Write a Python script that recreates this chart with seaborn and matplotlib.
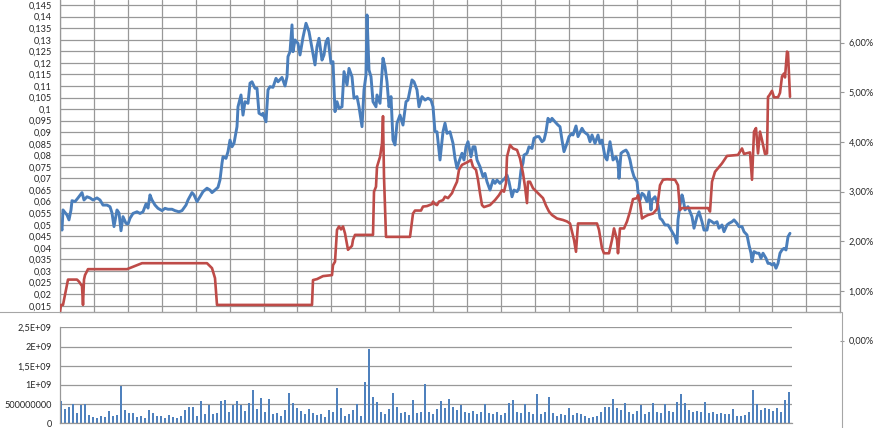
import numpy as np
import seaborn as sns
import matplotlib
matplotlib.use('Agg')
import matplotlib.pyplot as plt
from matplotlib.patches import Rectangle

sns.set_style('white')
plt.rcParams['font.family'] = ['Lato', 'DejaVu Sans']

# trading-day index (0..730) and values
blue_day = [0, 2, 3, 7, 9, 11, 12, 15, 18, 22, 24, 27, 30, 33, 37, 40, 43, 47, 50, 52, 54, 57, 59, 61, 63, 66, 68, 70,
            73, 77, 80, 83, 86, 88, 90, 92, 95, 98, 102, 105, 108, 112, 115, 119, 122, 126, 128, 132, 134, 137, 140,
            143, 147, 150, 152, 155, 158, 160, 162, 163, 166, 168, 170, 172, 174, 177, 178, 181, 183, 185, 188, 190,
            192, 195, 197, 199, 202, 203, 206, 208, 210, 213, 216, 218, 222, 225, 227, 228, 230, 232, 233, 235, 238,
            240, 243, 246, 249, 252, 255, 257, 259, 262, 264, 266, 268, 271, 273, 275, 277, 279, 282, 284, 287, 289,
            292, 294, 297, 299, 302, 304, 306, 307, 309, 311, 313, 316, 317, 320, 323, 325, 327, 329, 331, 333, 335,
            337, 340, 342, 343, 346, 348, 352, 354, 357, 359, 362, 365, 368, 371, 373, 375, 377, 380, 383, 385, 387,
            390, 393, 395, 397, 399, 402, 404, 406, 408, 411, 413, 415, 417, 420, 423, 425, 427, 430, 433, 435, 437,
            440, 443, 445, 447, 449, 452, 454, 457, 459, 461, 463, 464, 467, 469, 472, 474, 477, 479, 482, 484, 486,
            488, 490, 492, 495, 498, 500, 502, 504, 507, 509, 512, 513, 516, 518, 522, 524, 528, 530, 532, 535, 538,
            540, 542, 545, 547, 550, 552, 553, 556, 558, 559, 561, 563, 566, 568, 570, 572, 574, 577, 578, 580, 582,
            584, 587, 589, 591, 592, 595, 598, 600, 602, 605, 608, 610, 612, 615, 617, 618, 620, 622, 623, 625, 628,
            630, 632, 634, 637, 639, 642, 644, 647, 649, 652, 654, 657, 659, 662, 664, 667, 669, 672, 674, 677, 679,
            682, 684, 687, 689, 691, 692, 694, 697, 699, 701, 703, 706, 708, 710, 712, 714, 716, 718, 720, 722, 724,
            726, 728, 730]
blue_val = [0.0508, 0.0477, 0.0564, 0.0542, 0.0521, 0.0564, 0.0604, 0.0600, 0.0616, 0.0639, 0.0607, 0.0621, 0.0616,
            0.0607, 0.0616, 0.0607, 0.0585, 0.0585, 0.0578, 0.0551, 0.0492, 0.0564, 0.0551, 0.0474, 0.0535, 0.0506,
            0.0503, 0.0528, 0.0549, 0.0556, 0.0549, 0.0556, 0.0590, 0.0572, 0.0629, 0.0607, 0.0585, 0.0571, 0.0561,
            0.0571, 0.0567, 0.0567, 0.0561, 0.0556, 0.0561, 0.0585, 0.0607, 0.0639, 0.0629, 0.0600, 0.0621, 0.0643,
            0.0658, 0.0650, 0.0639, 0.0650, 0.0662, 0.0694, 0.0766, 0.0794, 0.0787, 0.0816, 0.0866, 0.0837, 0.0852,
            0.0924, 0.1010, 0.1061, 0.0974, 0.1032, 0.1025, 0.1112, 0.1118, 0.1090, 0.1090, 0.0982, 0.0974, 0.0982,
            0.0945, 0.1083, 0.1097, 0.1094, 0.1133, 0.1118, 0.1137, 0.1100, 0.1140, 0.1227, 0.1248, 0.1364, 0.1248,
            0.1299, 0.1284, 0.1234, 0.1310, 0.1371, 0.1335, 0.1263, 0.1191, 0.1270, 0.1306, 0.1212, 0.1234, 0.1291,
            0.1306, 0.1198, 0.1205, 0.0989, 0.1032, 0.1003, 0.1010, 0.1162, 0.1104, 0.1176, 0.1140, 0.1047, 0.1054,
            0.1010, 0.0924, 0.1083, 0.1147, 0.1407, 0.1169, 0.1140, 0.1032, 0.1010, 0.1061, 0.1025, 0.1220, 0.1183,
            0.1118, 0.1010, 0.1054, 0.0866, 0.0845, 0.0939, 0.0974, 0.0945, 0.0931, 0.1032, 0.1039, 0.1126, 0.1118,
            0.1083, 0.1010, 0.1054, 0.1039, 0.1047, 0.1039, 0.1010, 0.0902, 0.0902, 0.0780, 0.0902, 0.0939, 0.0895,
            0.0902, 0.0852, 0.0787, 0.0744, 0.0773, 0.0809, 0.0780, 0.0837, 0.0859, 0.0794, 0.0837, 0.0837, 0.0780,
            0.0751, 0.0708, 0.0722, 0.0686, 0.0650, 0.0693, 0.0679, 0.0693, 0.0679, 0.0693, 0.0701, 0.0715, 0.0686,
            0.0621, 0.0650, 0.0643, 0.0658, 0.0737, 0.0766, 0.0801, 0.0809, 0.0837, 0.0830, 0.0874, 0.0881, 0.0881,
            0.0859, 0.0866, 0.0902, 0.0960, 0.0945, 0.0960, 0.0945, 0.0931, 0.0924, 0.0866, 0.0816, 0.0852, 0.0881,
            0.0895, 0.0888, 0.0927, 0.0881, 0.0917, 0.0902, 0.0888, 0.0859, 0.0888, 0.0852, 0.0888, 0.0852, 0.0866,
            0.0794, 0.0780, 0.0859, 0.0809, 0.0780, 0.0794, 0.0766, 0.0701, 0.0809, 0.0816, 0.0823, 0.0809, 0.0780,
            0.0737, 0.0708, 0.0686, 0.0643, 0.0607, 0.0636, 0.0629, 0.0600, 0.0643, 0.0564, 0.0607, 0.0621, 0.0585,
            0.0528, 0.0521, 0.0499, 0.0499, 0.0485, 0.0470, 0.0448, 0.0420, 0.0521, 0.0585, 0.0629, 0.0614, 0.0564,
            0.0578, 0.0556, 0.0535, 0.0485, 0.0535, 0.0556, 0.0513, 0.0477, 0.0477, 0.0521, 0.0513, 0.0506, 0.0513,
            0.0485, 0.0499, 0.0470, 0.0499, 0.0506, 0.0513, 0.0521, 0.0506, 0.0492, 0.0492, 0.0470, 0.0456, 0.0412,
            0.0377, 0.0340, 0.0384, 0.0377, 0.0377, 0.0355, 0.0377, 0.0355, 0.0333, 0.0333, 0.0326, 0.0333, 0.0312,
            0.0333, 0.0377, 0.0391, 0.0398, 0.0391, 0.0448, 0.0463]

red_day = [0, 1, 3, 8, 17, 19, 22, 23, 24, 25, 28, 67, 82, 147, 152, 155, 157, 252, 253, 257, 263, 272, 273, 275,
           277, 279, 281, 283, 285, 288, 292, 293, 295, 313, 314, 316, 317, 320, 322, 323, 324, 326, 350, 353, 355,
           361, 363, 367, 372, 373, 375, 377, 379, 383, 385, 388, 392, 394, 397, 399, 402, 405, 408, 411, 413, 416,
           418, 420, 422, 424, 430, 435, 439, 442, 444, 446, 447, 450, 453, 457, 460, 463, 465, 467, 468, 470, 473,
           478, 483, 486, 489, 492, 497, 503, 507, 510, 514, 516, 518, 537, 539, 542, 544, 549, 552, 554, 557, 558,
           560, 564, 567, 570, 573, 577, 578, 580, 582, 585, 588, 593, 597, 600, 603, 607, 615, 618, 620, 622, 648,
           650, 652, 655, 662, 667, 678, 682, 684, 690, 692, 694, 696, 698, 700, 702, 705, 707, 708, 709, 712, 714,
           718, 720, 722, 724, 725, 727, 728, 730]
red_pct = [0.58, 0.72, 0.72, 1.23, 1.23, 1.19, 1.10, 0.72, 1.23, 1.32, 1.44, 1.44, 1.56, 1.56, 1.46, 1.26, 0.72, 0.72,
           1.22, 1.24, 1.30, 1.32, 1.52, 1.59, 2.23, 2.30, 2.24, 2.30, 2.16, 1.83, 1.91, 2.03, 2.13, 2.13, 3.00, 3.10,
           3.50, 3.70, 3.97, 4.52, 3.30, 2.09, 2.09, 2.56, 2.62, 2.62, 2.70, 2.71, 2.75, 2.80, 2.75, 2.73, 2.80, 2.83,
           2.90, 2.87, 2.97, 3.07, 3.20, 3.44, 3.54, 3.57, 3.60, 3.64, 3.50, 3.44, 3.24, 2.97, 2.73, 2.69, 2.73, 2.83,
           2.93, 3.03, 3.00, 3.17, 3.70, 3.94, 3.87, 3.84, 3.67, 3.37, 3.10, 2.77, 3.20, 3.20, 3.07, 2.97, 2.87, 2.72,
           2.60, 2.53, 2.46, 2.43, 2.40, 2.36, 2.03, 1.79, 2.36, 2.36, 2.23, 1.86, 1.76, 1.76, 2.03, 2.26, 2.03, 1.76,
           2.26, 2.26, 2.40, 2.60, 2.85, 2.87, 2.93, 2.77, 2.46, 2.50, 2.53, 2.56, 2.65, 3.13, 3.24, 3.25, 3.24, 3.13,
           2.63, 2.67, 2.67, 2.60, 3.20, 3.40, 3.57, 3.72, 3.74, 3.87, 3.76, 3.79, 3.24, 4.21, 4.28, 3.77, 4.21, 4.04,
           3.76, 3.77, 4.91, 4.93, 5.03, 4.90, 4.90, 4.99, 5.32, 5.38, 5.30, 5.82, 5.80, 4.91]

# volume, millions, one bar every 4 trading days
vol_step = 4
vol_mln = [590, 380, 430, 500, 260, 480, 500, 220, 170, 150, 190, 160, 330, 180, 220, 970, 350, 260, 280, 170,
           190, 150, 350, 260, 180, 200, 150, 220, 160, 140, 200, 350, 430, 420, 200, 590, 250, 480, 230, 280,
           590, 600, 300, 480, 590, 480, 330, 540, 880, 380, 650, 300, 620, 250, 280, 200, 350, 780, 520, 400,
           330, 250, 370, 260, 220, 250, 170, 350, 300, 910, 390, 200, 250, 350, 500, 200, 1080, 1940, 680, 560,
           300, 250, 380, 800, 430, 260, 300, 220, 610, 280, 300, 1030, 300, 250, 380, 590, 400, 620, 420, 350,
           480, 300, 280, 330, 250, 300, 500, 270, 250, 300, 220, 280, 520, 610, 300, 280, 500, 300, 250, 760,
           250, 300, 680, 280, 200, 250, 220, 390, 220, 280, 250, 180, 150, 170, 200, 300, 430, 420, 620, 400,
           350, 520, 300, 250, 330, 480, 250, 300, 520, 300, 280, 500, 330, 300, 560, 760, 520, 350, 300, 330,
           300, 560, 280, 300, 250, 280, 230, 250, 370, 200, 180, 220, 300, 870, 500, 350, 400, 380, 330, 400,
           300, 610, 820]
vol_ticklabels = ['0', '500000000', '1E+09', '1,5E+09', '2E+09', '2,5E+09']

BLUE = '#4a7ebb'
RED = '#be4b48'
GRID = '#989898'
TXT = '#262626'
W, H = 880, 428


def box(x0, y0, x1, y1):
    # pixel box measured from the top-left corner -> figure fractions
    return [x0 / W, 1 - y1 / H, (x1 - x0) / W, (y1 - y0) / H]


fig = plt.figure(figsize=(8.8, 4.28), dpi=100)

# lower chart-area frame
fig.add_artist(Rectangle((-0.01, -0.01), 842 / W + 0.01, (H - 312) / H + 0.01,
                         transform=fig.transFigure, fill=False, edgecolor='#a6a6a6', lw=0.8))

# --- top: blue on left axis ---
ax = fig.add_axes(box(60, 0, 840.3, 312))
ax.set_facecolor('none')
sns.lineplot(x=blue_day, y=blue_val, ax=ax, color=BLUE, lw=2.1, estimator=None, sort=False)
ax.set_xlim(0, 780.3)
ax.set_ylim(0.01228, 0.14716)
yt = np.round(np.arange(0.015, 0.1451, 0.005), 3)
ax.set_yticks(yt)
ax.set_yticklabels([f'{v:g}'.replace('.', ',') for v in yt])
ax.set_xticks(np.linspace(0, 780.3, 24))
ax.set_xticklabels([])
ax.grid(True, color=GRID, lw=0.9)
ax.tick_params(axis='y', direction='out', length=4, width=0.8, color=GRID, pad=2, labelsize=6.6, labelcolor=TXT)
ax.tick_params(axis='x', length=0)
for s in ['top', 'right']:
    ax.spines[s].set_visible(False)
for s in ['left', 'bottom']:
    ax.spines[s].set_color(GRID)
    ax.spines[s].set_linewidth(0.9)

# --- top: red on right axis (runs down to 0 %) ---
axr = fig.add_axes(box(60, 0, 840.3, 345))
axr.set_facecolor('none')
sns.lineplot(x=red_day, y=red_pct, ax=axr, color=RED, lw=1.9, estimator=None, sort=False)
axr.set_xlim(0, 780.3)
axr.set_ylim(-0.087, 6.859)
axr.yaxis.tick_right()
axr.set_yticks(range(0, 7))
axr.set_yticklabels([f'{v},00%' for v in range(0, 7)])
axr.set_xticks([])
axr.tick_params(axis='y', direction='out', length=3, width=0.8, color=GRID, pad=3, labelsize=6.6, labelcolor=TXT)
for s in ['top', 'left', 'bottom']:
    axr.spines[s].set_visible(False)
axr.spines['right'].set_color(GRID)
axr.spines['right'].set_linewidth(0.9)
axr.spines['right'].set_bounds(0.578, 6.859)

# --- bottom: volume ---
axb = fig.add_axes(box(60, 327.3, 792, 423.3))
axb.set_facecolor('white')
vol_day = [i * vol_step for i in range(len(vol_mln))]
axb.bar(vol_day, [v * 1e6 for v in vol_mln], width=2.9, color='#4f81bd', linewidth=0, zorder=2)
axb.set_xlim(-1, 731)
axb.set_ylim(0, 2.5e9)
axb.set_yticks(np.arange(0, 2.51e9, 0.5e9))
axb.set_yticklabels(vol_ticklabels)
axb.set_xticks(np.arange(17.6, 731, 20.83))
axb.set_xticklabels([])
axb.yaxis.grid(True, color=GRID, lw=0.9)
axb.xaxis.grid(False)
axb.set_axisbelow(True)
axb.tick_params(axis='y', direction='out', length=3, width=0.8, color=GRID, pad=3, labelsize=6.6, labelcolor=TXT)
axb.tick_params(axis='x', direction='out', length=3, width=0.8, color=GRID)
for s in ['top', 'right']:
    axb.spines[s].set_visible(False)
for s in ['left', 'bottom']:
    axb.spines[s].set_color(GRID)
    axb.spines[s].set_linewidth(0.9)

fig.savefig('out.png', dpi=100)
